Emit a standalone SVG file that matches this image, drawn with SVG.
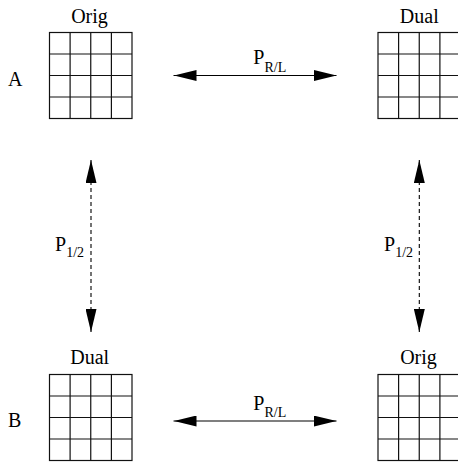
<svg xmlns="http://www.w3.org/2000/svg" width="458" height="462" viewBox="0 0 458 462">
<defs>
<style>
text{font-family:"Liberation Serif","Times New Roman",serif;fill:#000}
.t{font-size:20px}
.s{font-size:14px}
.g{fill:#fff;stroke:#111;stroke-width:1.2}
.c{stroke:#000;stroke-width:1.1;fill:none}
.d{stroke:#000;stroke-width:1.1;fill:none;stroke-dasharray:4 3}
</style>
<g id="grid">
<rect class="g" x="0" y="0" width="82.5" height="86"/>
<path class="g" d="M20.6 0V86M41.25 0V86M61.9 0V86M0 21.5H82.5M0 43H82.5M0 64.5H82.5"/>
</g>
<marker id="ah" viewBox="0 0 23 11" refX="23" refY="5.5" markerWidth="23" markerHeight="11" markerUnits="userSpaceOnUse" orient="auto-start-reverse">
<path d="M0 0L23 5.5L0 11Z" fill="#000"/>
</marker>
</defs>
<g id="nodeA-orig">
<use href="#grid" x="49.5" y="32.5"/>
<text class="t" x="89.5" y="23" text-anchor="middle">Orig</text>
</g>
<g id="nodeA-dual">
<use href="#grid" x="378" y="32.5"/>
<text class="t" x="419.3" y="23" text-anchor="middle">Dual</text>
</g>
<g id="nodeB-dual">
<use href="#grid" x="49.5" y="374.5"/>
<text class="t" x="89.7" y="363.5" text-anchor="middle">Dual</text>
</g>
<g id="nodeB-orig">
<use href="#grid" x="378" y="374.5"/>
<text class="t" x="418.5" y="363.5" text-anchor="middle">Orig</text>
</g>
<g id="rowlabels">
<text class="t" x="8" y="86">A</text>
<text class="t" x="8" y="427">B</text>
</g>
<g id="connectors">
<line class="c" x1="173.5" y1="75.5" x2="336.5" y2="75.5" marker-start="url(#ah)" marker-end="url(#ah)"/>
<line class="c" x1="173.5" y1="421" x2="336.5" y2="421" marker-start="url(#ah)" marker-end="url(#ah)"/>
<line class="d" x1="91" y1="160" x2="91" y2="332" marker-start="url(#ah)" marker-end="url(#ah)"/>
<line class="d" x1="419.3" y1="160" x2="419.3" y2="332" marker-start="url(#ah)" marker-end="url(#ah)"/>
<text class="t" x="253.3" y="64">P<tspan class="s" dy="7.5">R/L</tspan></text>
<text class="t" x="253.3" y="410">P<tspan class="s" dy="7">R/L</tspan></text>
<text class="t" x="55" y="251">P<tspan class="s" dy="6">1/2</tspan></text>
<text class="t" x="384" y="251">P<tspan class="s" dy="6">1/2</tspan></text>
</g>
</svg>
